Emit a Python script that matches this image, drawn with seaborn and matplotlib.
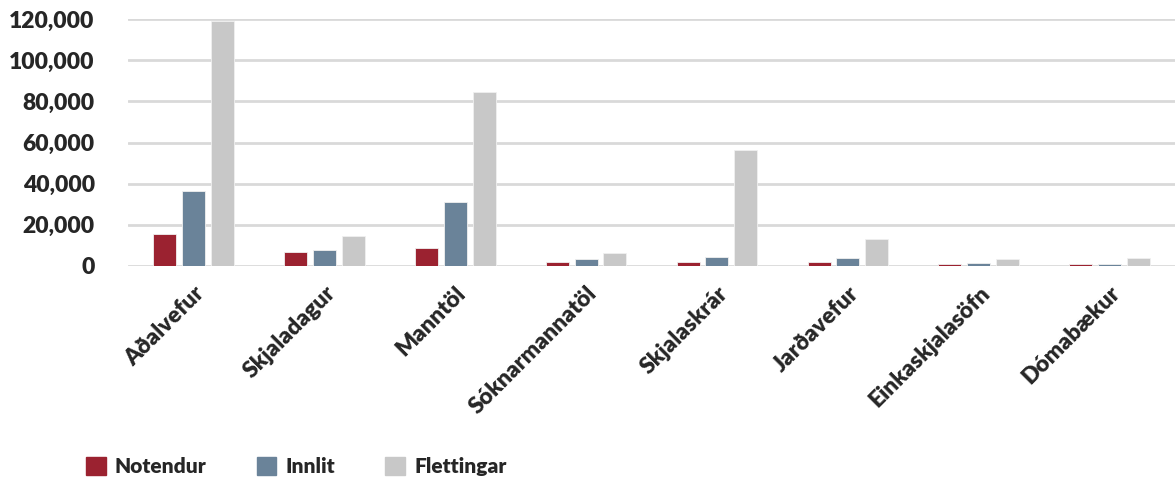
import matplotlib.pyplot as plt
import matplotlib.ticker as mticker
from matplotlib.patches import Patch
import pandas as pd
import seaborn as sns

categories = ['Aðalvefur', 'Skjaladagur', 'Manntöl', 'Sóknarmannatöl',
              'Skjalaskrár', 'Jarðavefur', 'Einkaskjalasöfn', 'Dómabækur']
notendur = [15500, 6800, 8700, 2000, 2100, 2100, 800, 700]
innlit = [36400, 7800, 31000, 3300, 4500, 4000, 1600, 1100]
flettingar = [119000, 14600, 84500, 6200, 56300, 13300, 3100, 3900]
series = ['Notendur', 'Innlit', 'Flettingar']
colors = ['#9b2230', '#6a8399', '#c8c8c8']

d = pd.DataFrame({'cat': categories, 'Notendur': notendur,
                  'Innlit': innlit, 'Flettingar': flettingar})
d = d.melt(id_vars='cat', var_name='series', value_name='value')

sns.set_style('white')
plt.rcParams['font.family'] = ['Lato', 'DejaVu Sans']
plt.rcParams['font.weight'] = 'heavy'

fig = plt.figure(figsize=(11.75, 4.79), dpi=100)
ax = fig.add_axes([0.109, 0.445, 0.891, 0.515])

sns.barplot(data=d, x='cat', y='value', hue='series', hue_order=series,
            palette=colors, width=0.66, gap=0.2, ax=ax, legend=False,
            saturation=1, edgecolor='#f0f0f0', linewidth=0.6)

ax.set_ylim(0, 120000)
ax.set_xlim(-0.5, len(categories) - 0.5)
ax.yaxis.set_major_locator(mticker.MultipleLocator(20000))
ax.yaxis.set_major_formatter(mticker.FuncFormatter(lambda v, p: f'{int(v):,}'))
ax.grid(axis='y', color='#d9d9d9', linewidth=2)
ax.set_axisbelow(True)
for s in ax.spines.values():
    s.set_visible(False)
ax.set_xlabel('')
ax.set_ylabel('')
ax.tick_params(axis='y', labelsize=16.5, pad=24, length=0)
ax.tick_params(axis='x', labelsize=16.5, length=0, pad=12)
for lab in ax.get_yticklabels():
    lab.set_fontweight('heavy')
plt.setp(ax.get_xticklabels(), rotation=45, ha='right',
         rotation_mode='anchor', fontweight='heavy')

handles = [Patch(color=c, label=s) for s, c in zip(series, colors)]
fig.legend(handles=handles, loc='lower left', bbox_to_anchor=(0.057, -0.033),
           ncol=3, frameon=False, handlelength=0.95,
           handleheight=0.95, handletextpad=0.45, columnspacing=2.4,
           prop={'weight': 'heavy', 'size': 15})

fig.savefig('out.png', dpi=100)
